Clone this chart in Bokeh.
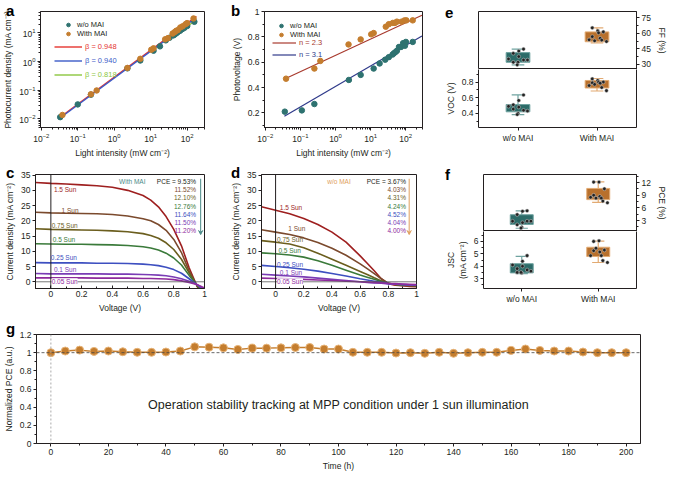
import numpy as np
from bokeh.plotting import figure
from bokeh.layouts import column, row
from bokeh.models import Label, Legend, LegendItem, Span, Arrow, VeeHead, FixedTicker, Div, LinearAxis
from bokeh.embed import file_html
from bokeh.resources import INLINE

# ---------------- data ----------------
# (a) photocurrent density vs light intensity
a_int_wo = [0.033, 0.10, 0.23, 2.3, 5.2, 12, 18, 26, 33, 42, 46, 51, 56, 64, 73, 84, 101, 158]
a_j_wo = [0.0115, 0.032, 0.070, 0.58, 1.09, 2.4, 3.4, 5.5, 6.8, 8.2, 8.9, 9.8, 10.8, 11.9, 13.5, 15.0, 17.5, 24.5]
a_int_with = [0.038, 0.23, 0.33, 2.3, 5.2, 10.4, 12, 25, 30, 40, 45, 50, 55, 65, 75, 90, 100, 150]
a_j_with = [0.0137, 0.072, 0.098, 0.60, 1.25, 2.6, 2.9, 6.0, 6.6, 9.5, 10.6, 11.8, 12.5, 15.5, 17.0, 20.0, 22.0, 32.0]
a_fit_red_x = [0.03, 180]
a_fit_red_y = [0.0105, 38.0]
a_fit_blue_x = [0.03, 160]
a_fit_blue_y = [0.0099, 31.0]
a_fit_green_x = [25, 160]
a_fit_green_y = [5.5, 25.0]
a_beta_labels = ["\u03b2 = 0.948", "\u03b2 = 0.940", "\u03b2 = 0.818"]

# (b) photovoltage vs light intensity
b_int_with = [0.039, 0.25, 0.37, 2.35, 5.2, 10.4, 12.2, 27, 33, 43, 49, 56, 76, 92, 104, 158]
b_v_with = [0.47, 0.55, 0.61, 0.74, 0.78, 0.82, 0.83, 0.88, 0.90, 0.91, 0.91, 0.92, 0.92, 0.93, 0.93, 0.93]
b_int_wo = [0.036, 0.11, 0.25, 2.4, 5.2, 12.2, 18, 26, 33, 42, 46, 51, 56, 64, 73, 84, 95, 101, 158]
b_v_wo = [0.21, 0.22, 0.27, 0.46, 0.50, 0.55, 0.59, 0.62, 0.64, 0.66, 0.67, 0.68, 0.69, 0.72, 0.72, 0.75, 0.73, 0.76, 0.76]
b_fit_with_x = [0.033, 290]
b_fit_with_y = [0.463, 0.97]
b_fit_wo_x = [0.035, 290]
b_fit_wo_y = [0.174, 0.806]
b_n_labels = ["n = 2.3", "n = 3.1"]

# (c), (d) J-V curves
voltage = [-0.1, 0.0, 0.1, 0.2, 0.3, 0.4, 0.5, 0.6, 0.65, 0.7, 0.75, 0.8, 0.85, 0.9, 0.95, 1.0]
sun_labels = ["1.5 Sun", "1 Sun", "0.75 Sun", "0.5 Sun", "0.25 Sun", "0.1 Sun", "0.05 Sun"]
c_j_150 = [32.6, 32.3, 32.1, 31.8, 31.5, 31.0, 30.0, 28.3, 26.8, 24.6, 21.4, 17.2, 11.8, 4.6, -1.3, -6.0]
c_j_100 = [22.8, 22.6, 22.5, 22.4, 22.3, 22.1, 21.6, 20.7, 20.0, 18.8, 16.9, 13.9, 9.6, 3.6, -1.2, -5.0]
c_j_075 = [17.4, 17.2, 17.1, 17.0, 16.9, 16.7, 16.4, 15.8, 15.2, 14.3, 12.8, 10.6, 7.4, 2.9, -1.1, -4.2]
c_j_050 = [12.5, 12.4, 12.3, 12.3, 12.2, 12.1, 11.9, 11.5, 11.1, 10.4, 9.4, 7.8, 5.5, 2.1, -1.0, -3.5]
c_j_025 = [6.3, 6.2, 6.2, 6.2, 6.1, 6.1, 6.0, 5.8, 5.6, 5.3, 4.8, 4.0, 2.8, 1.0, -0.9, -2.8]
c_j_010 = [2.7, 2.6, 2.6, 2.6, 2.6, 2.5, 2.5, 2.4, 2.3, 2.2, 2.0, 1.6, 1.0, 0.2, -0.9, -2.4]
c_j_005 = [1.3, 1.3, 1.3, 1.3, 1.2, 1.2, 1.2, 1.1, 1.1, 1.0, 0.9, 0.7, 0.3, -0.2, -0.9, -2.0]
c_pce = ["PCE = 9.53%", "11.52%", "12.10%", "12.76%", "11.64%", "11.50%", "11.20%"]
d_j_150 = [24.6, 23.5, 22.3, 20.8, 18.8, 16.3, 13.0, 8.5, 6.1, 3.6, 1.0, -0.6, -1.1, -1.3, -1.5, -1.6]
d_j_100 = [17.1, 16.3, 15.5, 14.4, 12.9, 11.0, 8.7, 5.9, 4.3, 2.7, 1.0, -0.5, -1.0, -1.2, -1.3, -1.4]
d_j_075 = [13.5, 13.0, 12.4, 11.2, 9.4, 7.4, 5.4, 3.4, 2.4, 1.3, 0.3, -0.5, -0.9, -1.1, -1.2, -1.3]
d_j_050 = [9.5, 9.2, 8.8, 8.1, 6.9, 5.4, 3.8, 2.2, 1.5, 0.8, 0.1, -0.5, -0.8, -1.0, -1.1, -1.2]
d_j_025 = [5.4, 5.0, 4.6, 4.1, 3.5, 2.7, 1.9, 1.0, 0.6, 0.2, -0.2, -0.6, -0.8, -0.9, -1.0, -1.1]
d_j_010 = [2.5, 2.2, 1.9, 1.6, 1.2, 0.8, 0.4, 0.0, -0.2, -0.4, -0.5, -0.7, -0.8, -0.9, -1.0, -1.0]
d_j_005 = [1.2, 1.1, 0.95, 0.8, 0.6, 0.4, 0.2, 0.0, -0.1, -0.2, -0.3, -0.5, -0.6, -0.7, -0.8, -0.9]
d_pce = ["PCE = 3.67%", "4.03%", "4.31%", "4.24%", "4.52%", "4.04%", "4.00%"]

# (e), (f) statistics
groups = ["w/o MAI", "With MAI"]
ff_wo = [44.7, 42.8, 40.6, 37.5, 35.2, 34.2, 34.2, 32.0, 32.0, 29.5]
ff_with = [65.2, 62.3, 61.3, 60.4, 56.7, 55.2, 53.7, 52.7, 53.4, 52.0]
voc_wo = [0.635, 0.565, 0.51, 0.48, 0.49, 0.44, 0.43, 0.455, 0.40, 0.385]
voc_with = [0.84, 0.82, 0.80, 0.80, 0.79, 0.785, 0.755, 0.77, 0.73, 0.69]
pce_wo = [5.3, 5.2, 4.4, 2.5, 2.85, 2.85, 2.85, 2.0, 1.4, 1.2]
pce_with = [12.1, 12.1, 10.5, 8.7, 9.0, 8.3, 8.5, 8.3, 7.6, 7.2]
jsc_wo = [4.85, 4.4, 3.8, 4.0, 4.1, 3.7, 3.6, 3.5, 3.45, 3.5]
jsc_with = [6.0, 6.05, 5.3, 5.15, 5.25, 4.85, 4.85, 5.45, 4.45, 4.3]
# box stats: [whisker low, Q1, Q3, whisker high]
ff_box_wo = [29.5, 32.0, 41.3, 44.7]
ff_box_with = [50.8, 51.8, 61.3, 65.2]
voc_box_wo = [0.385, 0.42, 0.513, 0.635]
voc_box_with = [0.686, 0.724, 0.82, 0.845]
pce_box_wo = [1.17, 2.08, 4.37, 5.3]
pce_box_with = [7.3, 7.95, 10.6, 12.15]
jsc_box_wo = [3.4, 3.46, 4.2, 4.8]
jsc_box_with = [4.3, 4.78, 5.53, 6.02]

# (g) stability
time_h = [0, 5, 10, 15, 20, 25, 30, 35, 40, 45, 50, 55, 60, 65, 70, 75, 80, 85, 90, 95, 100,
          105, 110, 115, 120, 125, 130, 135, 140, 145, 150, 155, 160, 165, 170, 175, 180, 185, 190, 195, 200]
norm_pce = [1.000, 1.018, 1.028, 1.014, 1.018, 1.010, 1.004, 1.004, 1.007, 1.018, 1.064, 1.060, 1.053, 1.036,
            1.050, 1.050, 1.053, 1.057, 1.057, 1.040, 1.040, 1.004, 1.004, 1.004, 0.996, 1.000, 0.993, 1.004,
            0.993, 1.000, 1.004, 1.004, 1.025, 1.040, 1.025, 1.018, 1.018, 1.007, 1.000, 1.000, 1.000]

panel_letters = ["a", "b", "e", "c", "d", "f", "g"]

# ---------------- style ----------------
FONT = "Liberation Sans"
INK = "#231f20"
TEAL = "#2e7270"
ORANGE = "#c47d2e"
SUN_COLORS = ["#9e1f1f", "#7b4a2d", "#6b5e1e", "#3a7a3a", "#3d4fc0", "#7a3cb5", "#8e2a9c"]
TICK_FS = "8.5px"


def style_axis(ax):
    ax.major_label_text_font = FONT
    ax.major_label_text_font_size = TICK_FS
    ax.major_label_text_color = INK
    ax.axis_label_text_font = FONT
    ax.axis_label_text_font_size = "8.5px"
    ax.axis_label_text_font_style = "normal"
    ax.axis_label_text_color = INK
    ax.major_label_standoff = 2
    ax.axis_label_standoff = 3
    ax.axis_line_color = INK
    ax.major_tick_line_color = INK
    ax.minor_tick_line_color = INK
    ax.major_tick_in = 0
    ax.major_tick_out = 3
    ax.minor_tick_in = 0
    ax.minor_tick_out = 2


def make(width, height, left, right, top, bottom, **kw):
    p = figure(width=width, height=height, toolbar_location=None, output_backend="svg",
               min_border_left=left, min_border_right=right, min_border_top=top,
               min_border_bottom=bottom, **kw)
    p.grid.visible = False
    p.outline_line_color = INK
    p.outline_line_width = 1
    p.outline_line_alpha = 1
    for ax in p.axis:
        style_axis(ax)
    return p


def legend(p, items, loc, color=INK, gw=12):
    lg = Legend(items=[LegendItem(label=l, renderers=[r]) for l, r in items], location=loc,
                border_line_color=None, background_fill_alpha=0, padding=0, margin=0, spacing=0,
                label_height=9, glyph_height=9, glyph_width=gw, label_standoff=3,
                label_text_font=FONT, label_text_font_size="7.5px", label_text_color=color)
    p.add_layout(lg)


# ---------------- (a) ----------------
pa = make(228, 160, 35, 24, 11, 33, x_axis_type="log", y_axis_type="log",
          x_range=(0.0095, 300), y_range=(0.005, 56))
pa.xaxis.axis_label = "Light intensity (mW cm\u207b\u00b2)"
pa.yaxis.axis_label = "Photocurrent density (mA cm\u207b\u00b2)"
ra_red = pa.line(a_fit_red_x, a_fit_red_y, line_color="#e5342f", line_width=1.4)
ra_blue = pa.line(a_fit_blue_x, a_fit_blue_y, line_color="#3c5bc8", line_width=1.4)
ra_green = pa.line(a_fit_green_x, a_fit_green_y, line_color="#8cc63e", line_width=1.4)
ra_wo = pa.scatter(a_int_wo, a_j_wo, size=5.5, fill_color=TEAL, line_color=TEAL)
ra_with = pa.scatter(a_int_with, a_j_with, size=5.5, fill_color=ORANGE, line_color=ORANGE)
legend(pa, [("w/o MAI", ra_wo), ("With MAI", ra_with)], (22, 89))
legend(pa, [(a_beta_labels[0], ra_red)], (14, 76), color="#e5342f", gw=28)
legend(pa, [(a_beta_labels[1], ra_blue)], (14, 62), color="#3c5bc8", gw=28)
legend(pa, [(a_beta_labels[2], ra_green)], (14, 48), color="#8cc63e", gw=28)

# ---------------- (b) ----------------
pb = make(214, 160, 32, 20, 11, 33, x_axis_type="log", x_range=(0.0095, 300), y_range=(0.085, 1.0))
pb.xaxis.axis_label = "Light intensity (mW cm\u207b\u00b2)"
pb.yaxis.axis_label = "Photovoltage (V)"
pb.yaxis.ticker = FixedTicker(ticks=[0.2, 0.4, 0.6, 0.8, 1.0], minor_ticks=[0.1, 0.3, 0.5, 0.7, 0.9])
rb_lw = pb.line(b_fit_with_x, b_fit_with_y, line_color="#a83a2e", line_width=1.2)
rb_lo = pb.line(b_fit_wo_x, b_fit_wo_y, line_color="#2f3a8a", line_width=1.2)
rb_wo = pb.scatter(b_int_wo, b_v_wo, size=5.5, fill_color=TEAL, line_color=TEAL)
rb_with = pb.scatter(b_int_with, b_v_with, size=5.5, fill_color=ORANGE, line_color=ORANGE)
legend(pb, [("w/o MAI", rb_wo), ("With MAI", rb_with)], (11, 88))
legend(pb, [(b_n_labels[0], rb_lw)], (8, 80), color="#a83a2e", gw=24)
legend(pb, [(b_n_labels[1], rb_lo)], (8, 68), color="#2f3a8a", gw=24)


# ---------------- (c), (d) ----------------
def jv_panel(width, left, right, curves, pce, tag, tag_color, arrow_x, pce_x, tag_x, sun_pos):
    p = make(width, 160, left, right, 14, 32, x_range=(-0.1, 1.0), y_range=(-2.2, 35.2))
    p.xaxis.axis_label = "Voltage (V)"
    p.yaxis.axis_label = "Current density (mA cm\u207b\u00b2)"
    p.xaxis.ticker = FixedTicker(ticks=[0.0, 0.2, 0.4, 0.6, 0.8, 1.0],
                                 minor_ticks=[-0.1, 0.1, 0.3, 0.5, 0.7, 0.9])
    p.yaxis.ticker = FixedTicker(ticks=[0, 5, 10, 15, 20, 25, 30, 35])
    p.xaxis.major_tick_in = 3
    p.xaxis.major_tick_out = 0
    p.xaxis.minor_tick_in = 2
    p.xaxis.minor_tick_out = 0
    p.add_layout(Span(location=0, dimension="width", line_color="#555555", line_width=0.8))
    p.add_layout(Span(location=0, dimension="height", line_color=INK, line_width=1))
    for j, col in zip(curves, SUN_COLORS):
        p.line(voltage, j, line_color=col, line_width=1.6)
    for i, (lab, col) in enumerate(zip(sun_labels, SUN_COLORS)):
        sx, sy = sun_pos[i]
        p.add_layout(Label(x=sx, y=sy, text=lab, text_color=col, text_font=FONT,
                           text_font_size="6.5px", text_baseline="middle",
                           background_fill_color="white" if i == 6 else None))
    p.add_layout(Label(x=tag_x, y=32.8, text=tag, text_color=tag_color, text_font=FONT,
                       text_font_size="6.5px", text_align="center", text_baseline="middle"))
    for i, (lab, col) in enumerate(zip(pce, SUN_COLORS)):
        p.add_layout(Label(x=pce_x, y=32.8 - 2.65 * i, text=lab, text_color=col if i else INK,
                           text_font=FONT, text_font_size="6.5px", text_align="right",
                           text_baseline="middle"))
    p.add_layout(Arrow(x_start=arrow_x, y_start=33.8, x_end=arrow_x, y_end=15.5,
                       line_color=tag_color, line_width=1,
                       end=VeeHead(size=4, line_color=tag_color, fill_color=tag_color)))
    return p


c_sun_pos = [(0.02, 30.3), (0.07, 23.4), (0.005, 18.6), (0.012, 13.8), (0.0, 8.0), (0.02, 3.9), (0.005, 0.0)]
d_sun_pos = [(0.03, 24.4), (0.09, 17.4), (0.01, 13.9), (0.02, 10.3), (0.01, 5.8), (0.03, 3.2), (0.01, 0.0)]
pc = jv_panel(228, 35, 24, [c_j_150, c_j_100, c_j_075, c_j_050, c_j_025, c_j_010, c_j_005],
              c_pce, "With MAI", "#4a8a88", 0.975, 0.945, 0.53, c_sun_pos)
pd = jv_panel(214, 30, 26, [d_j_150, d_j_100, d_j_075, d_j_050, d_j_025, d_j_010, d_j_005],
              d_pce, "w/o MAI", "#e0a060", 0.948, 0.925, 0.45, d_sun_pos)

# ---------------- (e), (f) ----------------
FILLS = ["#2c6b68", "#b8702c"]
EDGES = ["#6fa3a0", "#e2aa72"]
JIT = [[0.07, 0.01, -0.06, 0.01, -0.12, 0.07, 0.12, -0.06, 0.0, -0.01],
       [-0.06, 0.01, 0.08, 0.02, -0.06, 0.04, -0.1, -0.03, 0.06, 0.12]]


def boxes(p, stats, vals):
    for i in range(2):
        xc = i + 0.5
        lo, q1, q3, hi = stats[i]
        p.segment([xc, xc], [lo, q3], [xc, xc], [q1, hi], line_color=EDGES[i], line_width=1.2)
        p.segment([xc - 0.08] * 2, [lo, hi], [xc + 0.08] * 2, [lo, hi], line_color=EDGES[i], line_width=1.2)
        p.vbar(x=[xc], bottom=[q1], top=[q3], width=0.3, fill_color=FILLS[i], line_color=EDGES[i], line_width=1)
        p.scatter(list(np.array(JIT[i]) + xc), vals[i], size=3.6, fill_color="#222222",
                  line_color="#cccccc", line_width=0.5)


def stat_pair(top_h, bot_h, top_b, bot_b, top_rng, bot_rng, top_lab, bot_lab, top_ticks, bot_ticks,
              top_stats, bot_stats, top_vals, bot_vals):
    L, R = 34, 29
    pt = make(227, top_h, L, R, top_b, 0, x_axis_location=None, y_axis_location="right",
              x_range=(0, 2), y_range=top_rng)
    pt.yaxis.axis_label = top_lab
    pt.yaxis.ticker = FixedTicker(ticks=top_ticks[0], minor_ticks=top_ticks[1])
    boxes(pt, top_stats, top_vals)
    pb_ = make(227, bot_h, L, R, 0, bot_b, x_range=(0, 2), y_range=bot_rng)
    pb_.outline_line_color = None
    edge = LinearAxis(ticker=FixedTicker(ticks=[], minor_ticks=[]),
                      major_tick_line_color=None, minor_tick_line_color=None, axis_line_color=INK)
    pb_.add_layout(edge, "right")
    pb_.yaxis[0].axis_label = bot_lab
    pb_.yaxis[0].ticker = FixedTicker(ticks=bot_ticks[0], minor_ticks=bot_ticks[1])
    pb_.xaxis.ticker = FixedTicker(ticks=[0.5, 1.5], minor_ticks=[])
    pb_.xaxis.major_label_overrides = {0.5: groups[0], 1.5: groups[1]}
    boxes(pb_, bot_stats, bot_vals)
    return column(pt, pb_, spacing=0)


pe = stat_pair(69, 91, 11, 33, (25, 81), (0.22, 0.96), "FF (%)", "VOC (V)",
               ([30, 45, 60, 75], [37.5, 52.5, 67.5]), ([0.4, 0.6, 0.8], [0.3, 0.5, 0.7, 0.9]),
               [ff_box_wo, ff_box_with], [voc_box_wo, voc_box_with],
               [ff_wo, ff_with], [voc_wo, voc_with])
pf = stat_pair(71, 89, 14, 32, (0.4, 13.9), (2.2, 6.8), "PCE (%)", "JSC\n(mA cm\u207b\u00b2)",
               ([3, 6, 9, 12], [1.5, 4.5, 7.5, 10.5, 13.5]), ([3, 4, 5, 6], [2.5, 3.5, 4.5, 5.5, 6.5]),
               [pce_box_wo, pce_box_with], [jsc_box_wo, jsc_box_with],
               [pce_wo, pce_with], [jsc_wo, jsc_with])

# ---------------- (g) ----------------
pg = make(669, 156, 32, 29, 14, 33, x_range=(-5, 205), y_range=(0, 1.2))
pg.xaxis.axis_label = "Time (h)"
pg.yaxis.axis_label = "Normalized PCE (a.u.)"
pg.xaxis.ticker = FixedTicker(ticks=list(range(0, 201, 20)), minor_ticks=list(range(10, 201, 20)))
pg.yaxis.ticker = FixedTicker(ticks=[0.0, 0.2, 0.4, 0.6, 0.8, 1.0, 1.2],
                              minor_ticks=[0.1, 0.3, 0.5, 0.7, 0.9, 1.1])
pg.add_layout(Span(location=1.0, dimension="width", line_color="#444444", line_width=0.8, line_dash="3 2"))
pg.add_layout(Span(location=0, dimension="height", line_color="#aaaaaa", line_width=1, line_dash="2 2"))
pg.line(time_h, norm_pce, line_color=ORANGE, line_width=1.5)
pg.scatter(time_h, norm_pce, size=8, fill_color=ORANGE, line_color="#e8b57a", line_width=1)
pg.add_layout(Label(x=100, y=0.425, text="Operation stability tracking at MPP condition under 1 sun illumination",
                    text_font=FONT, text_font_size="12.5px", text_align="center", text_baseline="middle",
                    text_color=INK))

# ---------------- panel letters (HTML overlay) ----------------
letter_pos = [(1, -2), (226, -2), (440, 0), (1, 160), (226, 160), (440, 162), (1, 316)]
spans = "".join(
    f'<span style="position:absolute;left:{x}px;top:{y}px">{t}</span>'
    for t, (x, y) in zip(panel_letters, letter_pos))
letters = Div(text=f'<div style="position:relative;width:669px;height:476px;font-family:\'Liberation Sans\',Arial,sans-serif;'
                   f'font-weight:bold;font-size:15px;line-height:15px;color:#000">{spans}</div>',
              width=669, height=476,
              styles={"position": "absolute", "left": "0px", "top": "0px", "z-index": "10",
                      "pointer-events": "none"})

layout = column(row(pa, pb, pe, spacing=0), row(pc, pd, pf, spacing=0), pg, letters, spacing=0)
open("out.html", "w").write(file_html(layout, INLINE))
